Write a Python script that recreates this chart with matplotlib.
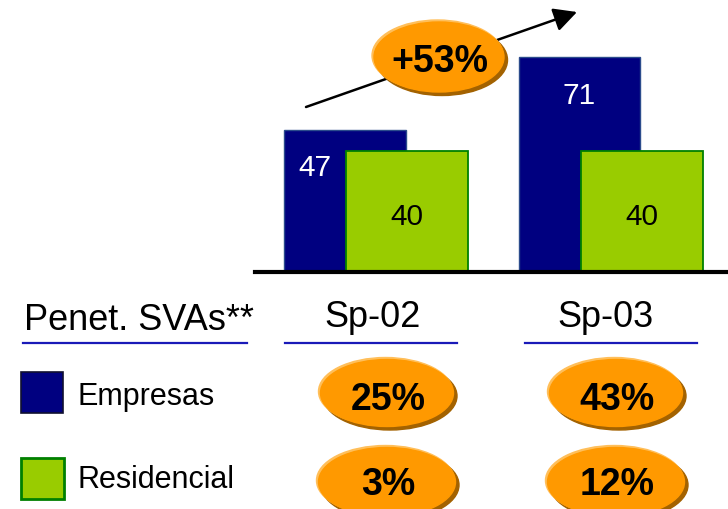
import matplotlib
matplotlib.use("Agg")
import matplotlib.pyplot as plt
from matplotlib.patches import Ellipse, Rectangle

plt.rcParams['font.family'] = ['Liberation Sans', 'DejaVu Sans']

# data
periods = ['Sp-02', 'Sp-03']
empresas = [47, 71]
residencial = [40, 40]
pen_empresas = [25, 43]
pen_residencial = [3, 12]
growth = 53
header = 'Penet. SVAs**'
series_names = ['Empresas', 'Residencial']

NAVY = '#000080'
GREEN = '#99CC00'
ORANGE = '#FF9900'

W, H = 728, 509
fig = plt.figure(figsize=(W / 100, H / 100), dpi=100)

# bar axes: x from 255px to right edge, baseline at y=272px
ax = fig.add_axes([255 / W, (H - 272) / H, 473 / W, 272 / H])
ax.set_xlim(-0.513, 1.5)
ax.set_ylim(0, 90)
ax.axis('off')

bw = 0.519
off = 0.132
xs = list(range(len(periods)))
ax.bar([x - off for x in xs], empresas, width=bw, color=NAVY,
       edgecolor='#2B4C8C', linewidth=1, zorder=2)
ax.bar([x + off for x in xs], residencial, width=bw, color=GREEN,
       edgecolor='#008000', linewidth=1.3, zorder=3)
ax.axhline(0, color='black', lw=3, zorder=4, clip_on=False)

for x, e, r in zip(xs, empresas, residencial):
    yb = e - 15.3
    if yb + 7.3 < r:
        lx = x - bw / 2  # middle of the part not covered by the green bar
    else:
        lx = x - off
    ax.text(lx, yb, str(e), color='white', fontsize=21.5, ha='center',
            va='baseline', zorder=5)
    ax.text(x + off, r / 2 - 4.5, str(r), color='black', fontsize=21.5,
            ha='center', va='baseline', zorder=5)

# overlay in pixel coordinates for the annotations and the table
ov = fig.add_axes([0, 0, 1, 1])
ov.set_xlim(0, W)
ov.set_ylim(H, 0)
ov.axis('off')
ov.patch.set_alpha(0)


def bubble(cx, cy, w, h, label, baseline):
    ov.add_patch(Ellipse((cx + 3, cy + 3), w, h, color='#A36200', zorder=2))
    ov.add_patch(Ellipse((cx - 1.5, cy - 1.5), w, h, color='#FFBF5A', zorder=3))
    ov.add_patch(Ellipse((cx, cy), w - 1, h - 1, color=ORANGE, zorder=4))
    ov.text(cx + 1, baseline, label, fontsize=27, fontweight='bold',
            ha='center', va='baseline', color='black', zorder=5)


# growth arrow
ov.annotate('', xy=(577, 12), xytext=(306, 107),
            arrowprops=dict(arrowstyle='-|>,head_length=0.7,head_width=0.36',
                            color='black', lw=1.8, mutation_scale=20,
                            shrinkA=0, shrinkB=0), zorder=1)
bubble(439, 57, 131, 71, '+%d%%' % growth, 72)

# table header
ov.text(24, 330, header, fontsize=26, ha='left', va='baseline')
col_x = [373, 605]
for cx, p in zip(col_x, periods):
    ov.text(cx, 327, p, fontsize=26, ha='center', va='baseline')
for x0, x1 in [(23, 247), (285, 457), (525, 697)]:
    ov.plot([x0, x1], [343, 343], color='#1A1AB8', lw=1.6)

# legend squares and labels
ov.add_patch(Rectangle((21, 372), 42, 41, facecolor=NAVY, edgecolor='#101030', lw=1.2))
ov.add_patch(Rectangle((21, 458), 43, 41, facecolor=GREEN, edgecolor='#008000', lw=2))
ov.text(78, 405, series_names[0], fontsize=22, ha='left', va='baseline')
ov.text(78, 488, series_names[1], fontsize=22, ha='left', va='baseline')

# penetration bubbles
bubble_x = [387, 616]
for bx, pe, pr in zip(bubble_x, pen_empresas, pen_residencial):
    bubble(bx, 393, 134, 68, '%d%%' % pe, 410)
    bubble(bx, 482, 138, 70, '%d%%' % pr, 495)

fig.savefig('out.png', dpi=100)
